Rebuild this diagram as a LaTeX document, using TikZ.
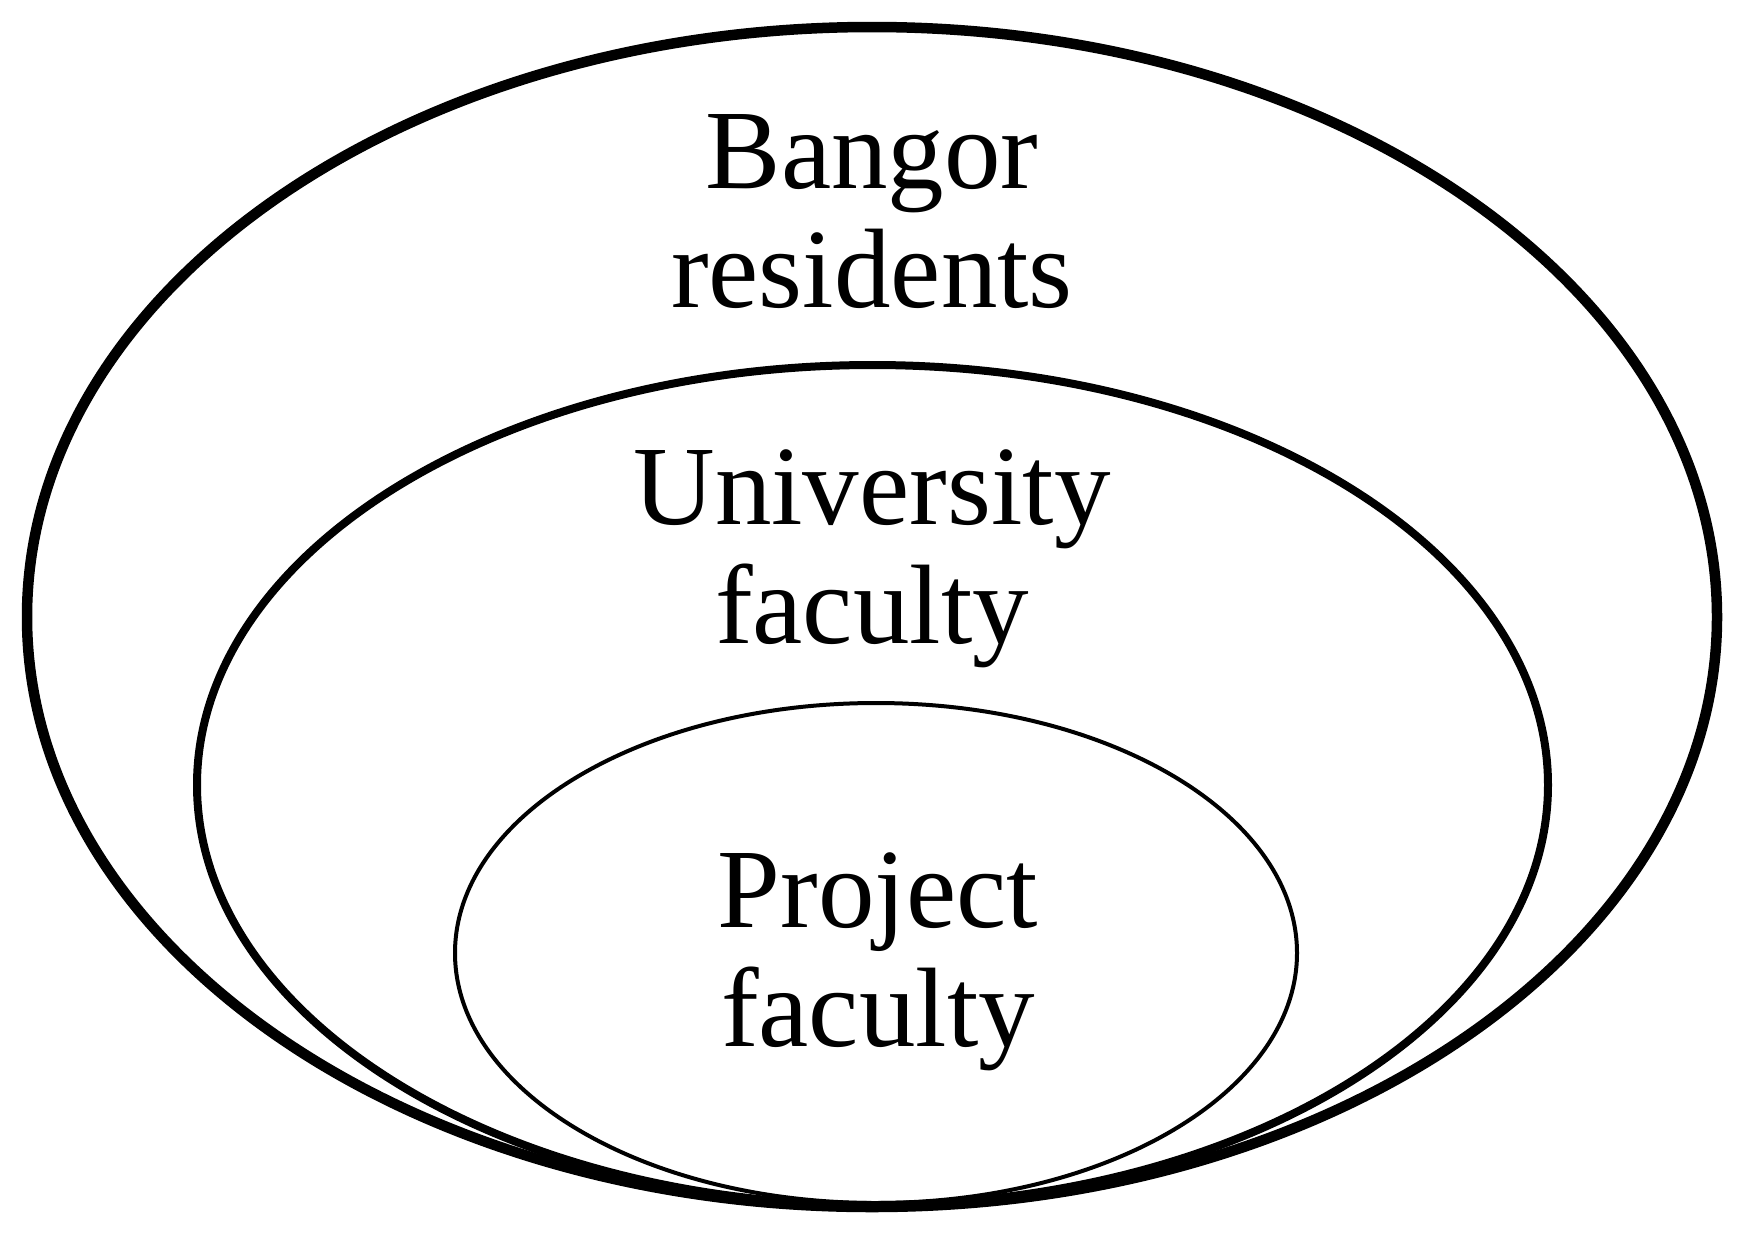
\documentclass[tikz,border=0pt]{standalone}
\usepackage{fontspec}
\setmainfont{Liberation Serif}
\begin{document}
\begin{tikzpicture}[x=1pt,y=-1pt,
  ring/.style={draw=black},
  lbl/.style={align=center,inner sep=0pt,anchor=base,font=\fontsize{113}{119}\selectfont}]
\useasboundingbox[fill=white] (0,0) rectangle (1746,1235);
\draw[ring,line width=10.5pt] (872,617) ellipse [x radius=845pt, y radius=590pt];
\draw[ring,line width=8pt] (872.5,785) ellipse [x radius=675.5pt, y radius=420pt];
\draw[ring,line width=4pt] (876,953) ellipse [x radius=421pt, y radius=250pt];
\node[lbl] (bangor) at (872,307) {Bangor\\residents};
\node[lbl] (univ) at (872,643) {University\\faculty};
\node[lbl] (proj) at (878,1046) {Project\\faculty};
\end{tikzpicture}
\end{document}
